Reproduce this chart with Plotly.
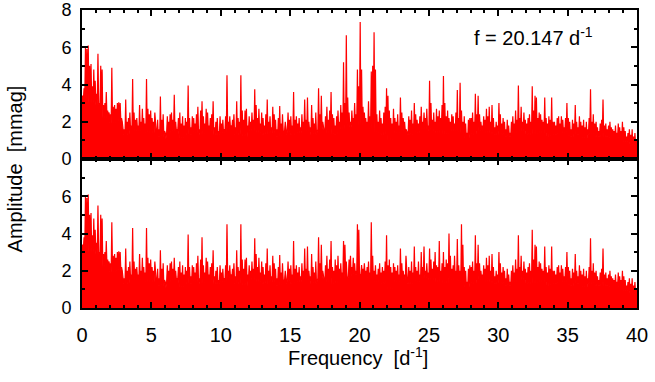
import plotly.graph_objects as go
from plotly.subplots import make_subplots

# Peak amplitudes (mmag), one value per 0.1 d^-1 bin (centre at 0.05, 0.15, ...), one row per d^-1
amp_top = [
    3.4, 3.8, 6.05, 5.9, 6.1, 5.0, 5.1, 3.9, 4.8, 4.2,
    3.5, 5.65, 3.0, 5.0, 4.8, 2.9, 3.0, 3.6, 2.6, 2.5,
    2.4, 4.9, 2.8, 2.9, 2.7, 3.0, 3.05, 3.0, 2.2, 1.5,
    1.6, 3.2, 2.0, 2.2, 2.5, 1.8, 4.3, 2.5, 2.1, 2.2,
    1.8, 2.9, 2.0, 2.7, 2.2, 1.9, 4.3, 2.7, 2.4, 2.6,
    2.2, 2.0, 2.5, 1.4, 2.1, 1.6, 3.35, 2.1, 2.4, 1.5,
    1.1, 2.3, 2.0, 2.4, 2.5, 2.1, 3.45, 2.0, 1.6, 2.2,
    2.5, 1.9, 2.3, 1.8, 2.2, 2.0, 3.95, 2.2, 1.7, 2.3,
    2.2, 1.9, 2.4, 2.8, 1.6, 2.6, 3.1, 2.3, 1.9, 2.7,
    2.5, 1.8, 2.2, 2.4, 3.1, 1.7, 2.0, 2.2, 1.5, 2.3,
    1.9, 2.1, 1.6, 2.3, 4.5, 2.0, 2.3, 1.8, 2.1, 2.4,
    1.7, 3.1, 2.2, 2.0, 4.5, 2.6, 2.1, 2.6, 2.7, 1.8,
    2.3, 2.0, 2.5, 2.1, 3.75, 2.9, 2.2, 2.7, 1.9, 2.5,
    2.2, 1.8, 2.4, 3.2, 2.0, 2.3, 1.7, 2.8, 2.4, 2.1,
    1.6, 2.2, 2.85, 1.9, 2.4, 1.5, 2.0, 1.3, 2.5, 2.1,
    2.3, 1.8, 3.6, 2.1, 2.3, 1.9, 2.2, 1.7, 2.4, 2.0,
    3.2, 2.1, 3.3, 2.0, 1.7, 2.9, 2.2, 1.9, 2.5, 1.6,
    3.8, 2.4, 3.4, 2.0, 1.5, 2.3, 2.8, 2.1, 2.6, 3.6,
    2.4, 2.2, 1.8, 2.3, 2.6, 2.0, 2.9, 2.5, 5.2, 3.0,
    6.65, 3.3, 2.5, 2.0, 2.6, 2.2, 3.0, 2.4, 4.8, 3.9,
    7.35, 4.8, 2.8, 2.5, 2.2, 2.0, 3.1, 2.3, 4.7, 5.0,
    6.8, 4.8, 2.4, 2.0, 2.6, 2.2, 1.9, 2.5, 2.8, 3.8,
    3.4, 2.6, 2.2, 1.9, 2.7, 2.2, 2.0, 2.4, 1.8, 3.3,
    2.5, 2.2, 2.0, 1.6, 1.3, 2.3, 2.1, 2.6, 1.9, 3.0,
    2.4, 2.1, 1.9, 2.3, 2.8, 2.0, 2.5, 2.2, 2.7, 1.8,
    4.2, 3.0, 2.1, 2.5, 2.0, 2.7, 2.3, 2.6, 2.2, 2.9,
    4.45, 3.0, 2.3, 2.6, 2.2, 2.0, 2.4, 2.3, 1.9, 2.5,
    3.7, 2.2, 4.1, 2.6, 2.0, 2.3, 1.9, 1.4, 2.1, 2.2,
    2.2, 2.5, 2.0, 3.5, 2.4, 3.4, 2.4, 2.0, 1.8, 2.3,
    2.1, 2.7, 2.3, 2.8, 2.0, 2.9, 2.2, 1.7, 2.0, 1.8,
    3.0, 2.4, 1.9, 2.2, 2.0, 1.6, 2.1, 1.8, 1.4, 2.0,
    2.3, 1.9, 2.6, 2.1, 3.95, 2.2, 2.8, 2.0, 2.5, 2.1,
    1.9, 2.2, 2.4, 2.0, 3.9, 2.6, 3.4, 3.3, 2.2, 2.5,
    2.4, 2.1, 2.0, 3.3, 2.2, 1.9, 2.3, 2.1, 3.3, 2.0,
    2.0, 1.8, 2.2, 2.3, 1.9, 2.3, 2.1, 1.7, 2.2, 3.0,
    2.2, 2.0, 1.6, 2.1, 1.9, 2.9, 2.0, 1.7, 2.3, 2.0,
    1.8, 2.1, 1.7, 2.0, 1.6, 2.2, 3.75, 2.0, 2.4, 1.9,
    2.0, 1.7, 1.5, 1.9, 2.1, 3.2, 1.8, 1.9, 1.6, 1.8,
    2.0, 1.7, 1.6, 1.5, 1.8, 1.4, 1.9, 1.7, 1.5, 2.0,
    1.7, 1.5, 1.2, 1.4, 1.6, 1.3, 1.6, 1.2, 1.4, 1.0,
]

# Level of the dips between peaks, one value per 0.5 d^-1
floor_top = [
    3.2, 3.0, 2.9, 2.2, 1.9, 2.0, 1.3, 1.5, 1.5, 1.4,
    1.4, 1.2, 1.4, 1.5, 1.1, 1.3, 1.4, 1.3, 1.5, 1.3,
    1.4, 1.6, 1.3, 1.2, 1.5, 1.4, 1.3, 1.4, 1.2, 1.5,
    1.3, 1.4, 1.5, 1.3, 1.6, 1.4, 1.3, 1.6, 1.7, 1.8,
    1.8, 1.6, 1.4, 1.3, 1.0, 1.4, 1.5, 1.3, 1.4, 1.6,
    1.5, 1.4, 1.3, 1.5, 1.4, 1.1, 1.3, 1.5, 1.4, 1.3,
    1.3, 1.2, 1.4, 1.5, 1.3, 1.3, 1.4, 1.2, 1.3, 1.4,
    1.2, 1.3, 1.1, 1.3, 1.2, 1.2, 1.1, 1.1, 0.9, 0.7,
]

# Residual spectrum after prewhitening: 18-28 d^-1 read separately
resid_18_28 = [
    2.2, 2.0, 2.6, 2.3, 2.8, 2.1, 2.4, 1.9, 3.6, 3.4,
    2.5, 1.5, 2.6, 2.8, 2.2, 2.7, 2.4, 2.0, 4.5, 4.2,
    1.8, 2.3, 2.1, 2.4, 2.0, 2.2, 2.5, 1.9, 4.6, 2.8,
    2.0, 2.3, 1.8, 2.1, 2.4, 1.9, 2.2, 2.0, 2.5, 3.9,
    2.3, 2.6, 2.2, 1.9, 2.4, 2.2, 2.0, 2.3, 1.8, 3.2,
    2.4, 2.0, 1.8, 2.8, 1.4, 2.2, 2.0, 2.5, 1.9, 3.3,
    2.2, 2.0, 2.5, 1.8, 3.0, 2.2, 3.3, 2.0, 2.4, 1.9,
    3.2, 2.6, 2.1, 2.5, 3.0, 2.3, 2.2, 3.6, 2.0, 2.4,
    3.0, 2.2, 2.6, 2.4, 4.0, 2.8, 2.1, 2.3, 2.8, 2.0,
    3.7, 2.3, 2.0, 4.5, 3.4, 2.2, 2.0, 1.4, 2.1, 2.3,
]
amp_bottom = amp_top[:180] + resid_18_28 + amp_top[280:]
# individual bins that differ in the residual panel (index: value)
resid_patches = {11: 5.5, 21: 4.6, 56: 3.1, 66: 2.7, 86: 3.8, 172: 3.4,
                 283: 3.9, 314: 3.9, 324: 4.2}
for k, v in resid_patches.items():
    amp_bottom[k] = v
floor_bottom = floor_top

BIN = 0.1


def outline(peaks, floors):
    xs, ys = [0.0], [floors[0]]
    for i, p in enumerate(peaks):
        xs.append(round(BIN * i + BIN / 2, 3))
        ys.append(p)
        xs.append(round(BIN * (i + 1), 3))
        ys.append(floors[min((i + 1) // 5, len(floors) - 1)])
    return xs, ys


fig = make_subplots(rows=2, cols=1, shared_xaxes=True, vertical_spacing=0)
for r, (pk, fl) in enumerate([(amp_top, floor_top), (amp_bottom, floor_bottom)], start=1):
    xs, ys = outline(pk, fl)
    fig.add_trace(go.Scatter(x=xs, y=ys, mode="lines", fill="tozeroy",
                             fillcolor="#ff0000", line=dict(color="#ff0000", width=1.2),
                             hoverinfo="skip", showlegend=False), row=r, col=1)

FONT = "Liberation Sans, Arial, Helvetica, sans-serif"
FS = 20
axis_common = dict(showline=True, linewidth=2, linecolor="black", mirror="ticks",
                   ticks="inside", ticklen=6, tickwidth=2, tickcolor="black",
                   showgrid=False, zeroline=False, ticklabeloverflow="allow",
                   automargin=False,
                   tickfont=dict(family=FONT, size=FS, color="black"))

fig.update_xaxes(**axis_common, range=[0, 40], dtick=5, tick0=0,
                 minor=dict(dtick=1, tick0=0, ticks="inside", ticklen=3,
                            tickwidth=1.5, tickcolor="black"))
fig.update_xaxes(showticklabels=False, row=1, col=1)
fig.update_xaxes(showticklabels=True, ticklabelstandoff=8, row=2, col=1)
fig.update_yaxes(**axis_common,
                 minor=dict(dtick=1, tick0=0, ticks="inside", ticklen=3,
                            tickwidth=1.5, tickcolor="black"),
                 ticklabelstandoff=5)
fig.update_yaxes(range=[0, 8], tickvals=[0, 2, 4, 6, 8], domain=[0.5, 1.0],
                 tickfont=dict(family=FONT, size=18, color="black"), row=1, col=1)
fig.update_yaxes(range=[0, 8], tickvals=[0, 2, 4, 6], domain=[0.0, 0.5],
                 tickfont=dict(family=FONT, size=18, color="black"), row=2, col=1)

fig.add_annotation(text="f = 20.147 d<sup>-1</sup>", xref="paper", yref="paper",
                   x=0.703, y=0.91, xanchor="left", yanchor="middle", showarrow=False,
                   font=dict(family=FONT, size=FS, color="black"))
fig.add_annotation(text="Frequency  [d<sup>-1</sup>]", xref="paper", yref="paper",
                   x=0.497, y=-0.163, xanchor="center", yanchor="middle", showarrow=False,
                   font=dict(family=FONT, size=FS, color="black"))
fig.add_annotation(text="Amplitude  [mmag]", xref="paper", yref="paper",
                   x=-0.121, y=0.468, xanchor="center", yanchor="middle", showarrow=False,
                   textangle=-90, font=dict(family=FONT, size=FS, color="black"))

fig.update_layout(width=655, height=382, margin=dict(l=82, r=18, t=10, b=74, autoexpand=False),
                  paper_bgcolor="white", plot_bgcolor="white")
fig.write_html("out.html")
